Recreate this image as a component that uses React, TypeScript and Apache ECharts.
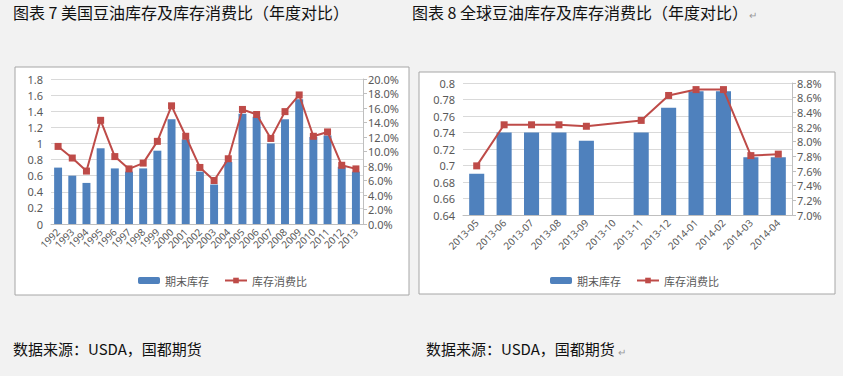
import React, { useEffect, useRef } from "react";
import * as echarts from "echarts";

const years = ["1992","1993","1994","1995","1996","1997","1998","1999","2000","2001","2002","2003","2004","2005","2006","2007","2008","2009","2010","2011","2012","2013"];
const usStock = [0.70, 0.60, 0.51, 0.94, 0.69, 0.65, 0.69, 0.91, 1.30, 1.05, 0.65, 0.49, 0.77, 1.37, 1.33, 1.00, 1.30, 1.55, 1.08, 1.10, 0.71, 0.65];
const usRatio = [10.7, 9.1, 7.3, 14.3, 9.3, 7.6, 8.4, 11.4, 16.3, 12.1, 7.8, 6.0, 9.0, 15.8, 15.1, 11.8, 15.5, 17.8, 12.1, 12.7, 8.1, 7.6];

const months = ["2013-05","2013-06","2013-07","2013-08","2013-09","2013-10","2013-11","2013-12","2014-01","2014-02","2014-03","2014-04"];
const globalStock = [0.69, 0.74, 0.74, 0.74, 0.73, null, 0.74, 0.77, 0.79, 0.79, 0.71, 0.71];
const globalRatio = [7.67, 8.23, 8.23, 8.23, 8.21, null, 8.29, 8.63, 8.71, 8.71, 7.81, 7.83];

const stockName = "期末库存";
const ratioName = "库存消费比";
const title1 = "图表 7 美国豆油库存及库存消费比（年度对比）";
const title2 = "图表 8 全球豆油库存及库存消费比（年度对比）";
const source = "数据来源：USDA，国都期货";

const CJK = '"Noto Sans CJK SC", "Noto Sans", sans-serif';
const LAT = '"Noto Sans", "Noto Sans CJK SC", sans-serif';
const BLUE = "#4f81bd";
const RED = "#be4b48";
const LABEL = "#595959";
const GRID = "#d9d9d9";
const AXIS = "#bfbfbf";

export default function App() {
  const ref = useRef<HTMLDivElement>(null);
  useEffect(() => {
    if (!ref.current) return;
    const chart = echarts.init(ref.current, null, { renderer: "svg" });
    const pct = (v: number) => v.toFixed(1) + "%";
    const catAxis = (gridIndex: number, data: string[]) => ({
      type: "category",
      gridIndex,
      data,
      axisLine: { lineStyle: { color: AXIS } },
      axisTick: { show: false },
      axisLabel: { rotate: 45, interval: 0, fontSize: 10, color: LABEL, margin: 6, fontFamily: LAT },
    });
    const leftVal = (gridIndex: number, min: number, max: number, interval: number) => ({
      type: "value",
      gridIndex,
      min,
      max,
      interval,
      axisLine: { show: false },
      axisTick: { show: false },
      splitLine: { lineStyle: { color: GRID } },
      axisLabel: { fontSize: 11, color: LABEL, margin: 8, fontFamily: LAT },
    });
    const rightVal = (gridIndex: number, min: number, max: number, interval: number) => ({
      type: "value",
      gridIndex,
      position: "right",
      min,
      max,
      interval,
      axisLine: { show: true, lineStyle: { color: AXIS } },
      axisTick: { show: true, length: 4, lineStyle: { color: AXIS } },
      splitLine: { show: false },
      axisLabel: { fontSize: 11, color: LABEL, margin: 5, fontFamily: LAT, formatter: pct },
    });
    const legend = (left: number) => ({
      left,
      top: 270,
      itemWidth: 22,
      itemHeight: 7,
      itemGap: 15,
      textStyle: { fontSize: 11, color: LABEL, fontFamily: CJK },
      data: [stockName, ratioName],
    });
    chart.setOption({
      animation: false,
      backgroundColor: "#f2f2f2",
      graphic: [
        { type: "rect", z: -10, shape: { x: 15, y: 67, width: 394, height: 228 }, style: { fill: "#ffffff", stroke: "#a6a6a6", lineWidth: 1 } },
        { type: "rect", z: -10, shape: { x: 419, y: 72, width: 416, height: 222 }, style: { fill: "#ffffff", stroke: "#a6a6a6", lineWidth: 1 } },
        { type: "text", x: 13, y: 4, style: { text: title1, fontSize: 16, fontFamily: CJK, fill: "#111111" } },
        { type: "text", x: 412, y: 4, style: { text: title2, fontSize: 16, fontFamily: CJK, fill: "#111111" } },
        { type: "text", x: 749, y: 9, style: { text: "↵", fontSize: 10, fontFamily: CJK, fill: "#999999" } },
        { type: "text", x: 13, y: 341, style: { text: source, fontSize: 15, fontFamily: CJK, fill: "#111111" } },
        { type: "text", x: 426, y: 341, style: { text: source, fontSize: 15, fontFamily: CJK, fill: "#111111" } },
        { type: "text", x: 618, y: 346, style: { text: "↵", fontSize: 10, fontFamily: CJK, fill: "#999999" } },
      ],
      grid: [
        { left: 51, top: 79, width: 312, height: 145 },
        { left: 463, top: 83, width: 329, height: 132 },
      ],
      legend: [legend(133), legend(545)],
      xAxis: [catAxis(0, years), catAxis(1, months)],
      yAxis: [
        leftVal(0, 0, 1.8, 0.2),
        rightVal(0, 0, 20, 2),
        leftVal(1, 0.64, 0.8, 0.02),
        rightVal(1, 7.0, 8.8, 0.2),
      ],
      series: [
        { name: stockName, type: "bar", xAxisIndex: 0, yAxisIndex: 0, data: usStock, barWidth: "56%", itemStyle: { color: BLUE } },
        { name: ratioName, type: "line", xAxisIndex: 0, yAxisIndex: 1, data: usRatio, symbol: "rect", symbolSize: 7, lineStyle: { width: 2, color: RED }, itemStyle: { color: RED } },
        { name: stockName, type: "bar", xAxisIndex: 1, yAxisIndex: 2, data: globalStock, barWidth: "55%", itemStyle: { color: BLUE } },
        { name: ratioName, type: "line", xAxisIndex: 1, yAxisIndex: 3, data: globalRatio, connectNulls: true, symbol: "rect", symbolSize: 7, lineStyle: { width: 2, color: RED }, itemStyle: { color: RED } },
      ],
    });
    return () => chart.dispose();
  }, []);
  return <div ref={ref} style={{ position: "absolute", left: 0, top: 0, width: 843, height: 376 }} />;
}
